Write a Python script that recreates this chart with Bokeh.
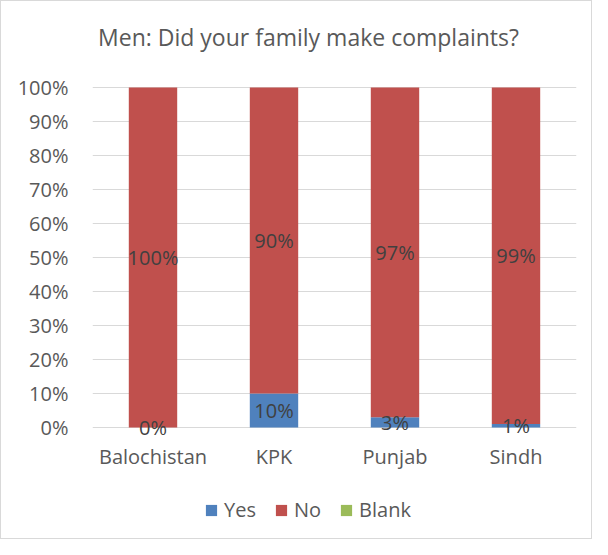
from bokeh.plotting import figure
from bokeh.models import ColumnDataSource, NumeralTickFormatter, FixedTicker, Legend, LegendItem, Range1d, Label
from bokeh.core.properties import value
from bokeh.embed import file_html
from bokeh.resources import INLINE

provinces = ["Balochistan", "KPK", "Punjab", "Sindh"]
yes = [0, 10, 3, 1]
no = [100, 90, 97, 99]
blank = [0, 0, 0, 0]
series = ["Yes", "No", "Blank"]
colors = ["#4f81bd", "#c0504d", "#9bbb59"]
y_ticks = [i / 10 for i in range(11)]
title_text = "Men: Did your family make complaints?"

FONT = "Open Sans"
PX = 340.0  # pixels per 100%

data = dict(prov=provinces,
            Yes=[v / 100 for v in yes],
            No=[v / 100 for v in no],
            Blank=[v / 100 for v in blank])
src = ColumnDataSource(data)

# frame spans the whole height of the canvas so that title, category labels and legend are inside it
p = figure(x_range=provinces, y_range=Range1d(-104 / PX, 1 + 86 / PX), width=592, height=539,
           output_backend="svg", toolbar_location=None,
           min_border_left=91, min_border_right=17, min_border_top=0, min_border_bottom=9)
p.styles = {"border": "1px solid #d9d9d9"}
p.outline_line_color = None
p.background_fill_color = "white"
p.border_fill_color = "white"

rs = p.vbar_stack(series, x="prov", width=0.4, color=colors, source=src, line_color=None)

# data labels
lab_src = ColumnDataSource(dict(
    x=provinces + provinces,
    y=[y / 200 for y in yes] + [(y + n / 2) / 100 for y, n in zip(yes, no)],
    t=[f"{v}%" for v in yes] + [f"{v}%" for v in no],
))
p.text(x="x", y="y", text="t", source=lab_src, text_align="center", text_baseline="middle",
       text_font=value(FONT), text_font_size="20px", text_color="#404040")

# category labels (x axis)
cat_src = ColumnDataSource(dict(x=provinces, y=[-29 / PX] * len(provinces), t=provinces))
p.text(x="x", y="y", text="t", source=cat_src, text_align="center", text_baseline="middle",
       text_font=value(FONT), text_font_size="20px", text_color="#595959")
p.xaxis.visible = False

# y axis
p.yaxis.ticker = FixedTicker(ticks=y_ticks)
p.yaxis.formatter = NumeralTickFormatter(format="0%")
p.yaxis.axis_line_color = None
p.yaxis.major_tick_line_color = None
p.yaxis.minor_tick_line_color = None
p.yaxis.major_tick_out = 0
p.yaxis.major_tick_in = 0
p.yaxis.minor_tick_out = 0
p.yaxis.major_label_text_font = FONT
p.yaxis.major_label_text_font_size = "20px"
p.yaxis.major_label_text_color = "#595959"
p.yaxis.major_label_standoff = 24
p.xgrid.grid_line_color = None
p.ygrid.grid_line_color = "#d9d9d9"
p.ygrid.grid_line_width = 1

# title
p.add_layout(Label(x=(307 - 91) / 121.0, y=1 + 51 / PX, text=title_text,
                   text_align="center", text_baseline="middle",
                   text_font=FONT, text_font_size="23px", text_color="#595959"))

legend = Legend(items=[LegendItem(label=s, renderers=[r]) for s, r in zip(series, rs)],
                orientation="horizontal", location=(112, 8), padding=0, margin=0,
                glyph_width=14, glyph_height=14, label_standoff=6, spacing=18,
                label_text_font=FONT, label_text_font_size="20px", label_text_color="#595959",
                border_line_color=None, background_fill_alpha=0)
p.add_layout(legend, "center")

open("out.html", "w").write(file_html(p, INLINE))
